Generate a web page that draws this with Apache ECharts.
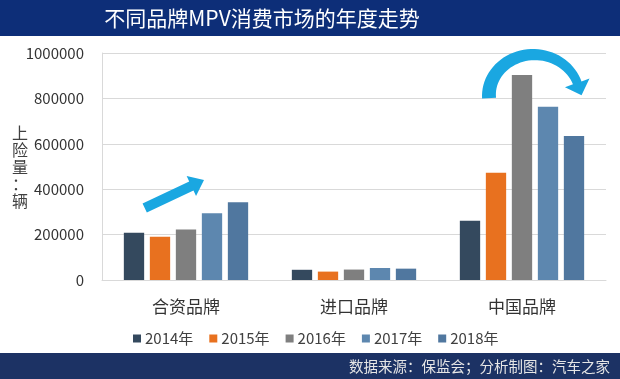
<!DOCTYPE html>
<html><head><meta charset="utf-8">
<script src="https://cdn.jsdelivr.net/npm/echarts@6/dist/echarts.min.js"></script>
<style>html,body{margin:0;padding:0;background:#fff}#c{width:620px;height:379px}</style>
</head><body><div id="c"></div>
<script>
var categories = ['合资品牌', '进口品牌', '中国品牌'];
var years = ['2014年', '2015年', '2016年', '2017年', '2018年'];
var v2014 = [208000, 45000, 261000];
var v2015 = [191000, 37000, 473000];
var v2016 = [223000, 46000, 903000];
var v2017 = [294000, 53000, 763000];
var v2018 = [342000, 50000, 634000];
var yTicks = [0, 200000, 400000, 600000, 800000, 1000000];
var colors = ['#34495e', '#e8711f', '#7f7f7f', '#5d87af', '#50779f'];
var FONT = '"Noto Sans CJK SC", "Noto Sans", sans-serif';

function straightArrow(tail, tip, sw, hw, hl) {
  var dx = tip[0] - tail[0], dy = tip[1] - tail[1];
  var L = Math.sqrt(dx * dx + dy * dy);
  var ux = dx / L, uy = dy / L, px = -uy, py = ux;
  var bx = tip[0] - ux * hl, by = tip[1] - uy * hl;
  return [
    [tail[0] + px * sw, tail[1] + py * sw],
    [bx + px * sw, by + py * sw],
    [bx + px * hw, by + py * hw],
    tip,
    [bx - px * hw, by - py * hw],
    [bx - px * sw, by - py * sw],
    [tail[0] - px * sw, tail[1] - py * sw]
  ];
}
function curvedArrow(cx, cy, a, b, t0, t1, th0, th1, hw, hl) {
  var outer = [], inner = [], n = 40;
  for (var i = 0; i <= n; i++) {
    var th = (t0 + (t1 - t0) * i / n) * Math.PI / 180;
    var w = th0 + (th1 - th0) * i / n;
    outer.push([cx + a * Math.cos(th), cy - b * Math.sin(th)]);
    inner.push([cx + (a - w) * Math.cos(th), cy - (b - w) * Math.sin(th)]);
  }
  var te = t1 * Math.PI / 180;
  var tx = a * Math.sin(te), ty = b * Math.cos(te);
  var tl = Math.sqrt(tx * tx + ty * ty); tx /= tl; ty /= tl;
  var o = outer[n], ii = inner[n];
  var mx = (o[0] + ii[0]) / 2, my = (o[1] + ii[1]) / 2;
  var px = ty, py = -tx;
  var pts = outer.slice();
  pts.push([mx + px * hw, my + py * hw]);
  pts.push([mx + tx * hl, my + ty * hl]);
  pts.push([mx - px * hw, my - py * hw]);
  for (var j = n; j >= 0; j--) pts.push(inner[j]);
  return pts;
}

var chart = echarts.init(document.getElementById('c'), null, {renderer: 'canvas'});
var vals = [v2014, v2015, v2016, v2017, v2018];
var series = years.map(function (y, i) {
  return {
    name: y, type: 'bar', data: vals[i],
    barGap: '28%', barCategoryGap: '26%',
    itemStyle: {color: colors[i]}
  };
});
chart.setOption({
  animation: false,
  textStyle: {fontFamily: FONT},
  grid: {left: 102, right: 14, top: 53, bottom: 99},
  legend: {
    data: years, left: 128, top: 326, itemWidth: 8, itemHeight: 8, itemGap: 16,
    icon: 'rect',
    textStyle: {fontSize: 15, color: '#404040', fontFamily: FONT, padding: [0, 0, 0, -1]}
  },
  xAxis: {
    type: 'category', data: categories,
    axisLine: {show: true, lineStyle: {color: '#d9d9d9'}},
    axisTick: {show: false},
    axisLabel: {fontSize: 17, color: '#333', margin: 18, fontFamily: FONT}
  },
  yAxis: {
    type: 'value', min: yTicks[0], max: yTicks[yTicks.length - 1],
    interval: yTicks[1] - yTicks[0],
    axisLine: {show: true, lineStyle: {color: '#d9d9d9'}},
    axisTick: {show: false},
    splitLine: {lineStyle: {color: '#d9d9d9'}},
    axisLabel: {fontSize: 15, color: '#333', margin: 18, fontFamily: FONT,
      formatter: function (v) { return String(v); }}
  },
  series: series,
  graphic: [
    {type: 'rect', left: 0, top: 0, shape: {width: 620, height: 36}, style: {fill: '#0d2e78'}, z: 10},
    {type: 'text', x: 262, y: 18, z: 11, style: {text: '不同品牌MPV消费市场的年度走势', fill: '#fff', fontSize: 21, fontFamily: FONT, align: 'center', verticalAlign: 'middle'}},
    {type: 'rect', left: 0, top: 353, shape: {width: 620, height: 26}, style: {fill: '#1c3264'}, z: 10},
    {type: 'text', x: 610, y: 366, z: 11, style: {text: '数据来源：保监会；分析制图：汽车之家', fill: '#e6e6e6', fontSize: 14.5, fontFamily: FONT, align: 'right', verticalAlign: 'middle'}},
    {type: 'text', x: 20, y: 167, z: 11, style: {text: '上\n险\n量\n：\n辆', fill: '#404040', fontSize: 16, lineHeight: 17, fontFamily: FONT, align: 'center', verticalAlign: 'middle'}},
    {type: 'polygon', z: 20, shape: {points: straightArrow([144.7, 208], [204, 180], 5, 11, 14)}, style: {fill: '#1aa7e1'}},
    {type: 'polygon', z: 20, shape: {points: curvedArrow(533, 96, 51, 47, 183, 18, 14, 9, 13, 13)}, style: {fill: '#1aa7e1'}}
  ]
});
</script></body></html>
